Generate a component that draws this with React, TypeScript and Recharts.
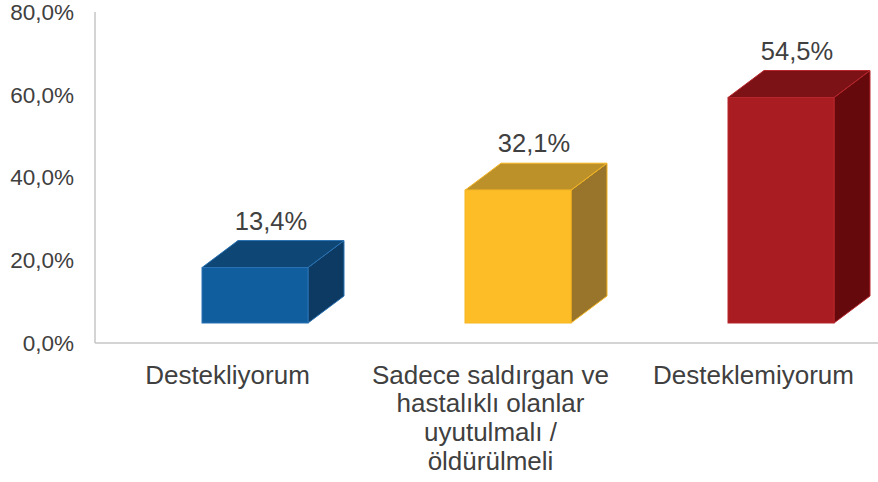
import React from 'react';
import { BarChart, Bar, XAxis, YAxis, LabelList } from 'recharts';

const categories = [
  'Destekliyorum',
  'Sadece saldırgan ve hastalıklı olanlar uyutulmalı / öldürülmeli',
  'Desteklemiyorum',
];
const values = [13.4, 32.1, 54.5];
const valueLabels = ['13,4%', '32,1%', '54,5%'];
const yTicks = [0, 20, 40, 60, 80];
const yTickLabels = ['0,0%', '20,0%', '40,0%', '60,0%', '80,0%'];

const frontColors = ['#115E9F', '#FDBD26', '#A91D22'];
const topColors = ['#0E4676', '#BD912A', '#7C1215'];
const sideColors = ['#0C3A62', '#98752A', '#66090D'];
const edgeColors = ['#2A72B3', '#F5B623', '#B7262B'];

const data = categories.map((c, i) => ({ name: c, value: values[i], label: valueLabels[i], idx: i }));

const SHIFT = 28;
const LIFT = 20;
const DX = 36;
const DY = 27;
const TEXT = '#404040';
const FONT = '"Liberation Sans", Arial, sans-serif';

function wrap(text: string, max: number): string[] {
  const words = text.split(' ');
  const lines: string[] = [];
  let cur = '';
  for (const w of words) {
    const next = cur ? cur + ' ' + w : w;
    if (next.length > max && cur) {
      lines.push(cur);
      cur = w;
    } else {
      cur = next;
    }
  }
  if (cur) lines.push(cur);
  return lines;
}

const Box3D = (props: any) => {
  const { x, y, width, height, payload } = props;
  const i = payload?.idx ?? props.index ?? 0;
  const fx = x + SHIFT;
  const fy = y - LIFT;
  const w = width;
  const h = height;
  const edge = edgeColors[i];
  return (
    <g>
      <polygon
        points={`${fx + w},${fy} ${fx + w + DX},${fy - DY} ${fx + w + DX},${fy - DY + h} ${fx + w},${fy + h}`}
        fill={sideColors[i]}
        stroke={edge}
        strokeWidth={1}
        strokeLinejoin="round"
      />
      <polygon
        points={`${fx},${fy} ${fx + DX},${fy - DY} ${fx + w + DX},${fy - DY} ${fx + w},${fy}`}
        fill={topColors[i]}
        stroke={edge}
        strokeWidth={1}
        strokeLinejoin="round"
      />
      <rect x={fx} y={fy} width={w} height={h} fill={frontColors[i]} stroke={edge} strokeWidth={1} />
    </g>
  );
};

const CategoryTick = (props: any) => {
  const { x, y, payload } = props;
  const lines = wrap(String(payload.value), 20);
  return (
    <text x={x} y={y} textAnchor="middle" fill={TEXT} fontSize={26} fontFamily={FONT}>
      {lines.map((l, k) => (
        <tspan key={k} x={x + 1} y={y + 40.5 + k * 28.7}>
          {l}
        </tspan>
      ))}
    </text>
  );
};

const ValueLabel = (props: any) => {
  const vb = props.viewBox ?? {};
  const x = props.x ?? vb.x;
  const y = props.y ?? vb.y;
  const width = props.width ?? vb.width;
  return (
    <text
      x={x + width / 2 + 44}
      y={y - 58}
      textAnchor="middle"
      fill={TEXT}
      fontSize={25.5}
      fontFamily={FONT}
    >
      {props.value}
    </text>
  );
};

export default function App() {
  return (
    <div style={{ position: 'absolute', left: 0, top: 0, width: 878, height: 482, overflow: 'hidden', background: '#fff' }}>
      <BarChart width={884} height={482} data={data} margin={{ top: 12, right: 0, bottom: 0, left: 0 }}>
        <XAxis
          dataKey="name"
          height={139}
          interval={0}
          tickLine={false}
          tickSize={0}
          tickMargin={0}
          axisLine={{ stroke: '#C6C6C6', strokeWidth: 1.5 }}
          tick={<CategoryTick />}
        />
        <YAxis
          width={95}
          domain={[0, 80]}
          ticks={yTicks}
          interval={0}
          tickLine={false}
          tickSize={0}
          tickMargin={21}
          axisLine={{ stroke: '#C6C6C6', strokeWidth: 1.5 }}
          tickFormatter={(v: number) => yTickLabels[yTicks.indexOf(v)]}
          tick={{ fill: TEXT, fontSize: 22.5, fontFamily: FONT }}
        />
        <Bar dataKey="value" barSize={106} isAnimationActive={false} shape={<Box3D />}>
          <LabelList dataKey="label" content={<ValueLabel />} />
        </Bar>
      </BarChart>
    </div>
  );
}
